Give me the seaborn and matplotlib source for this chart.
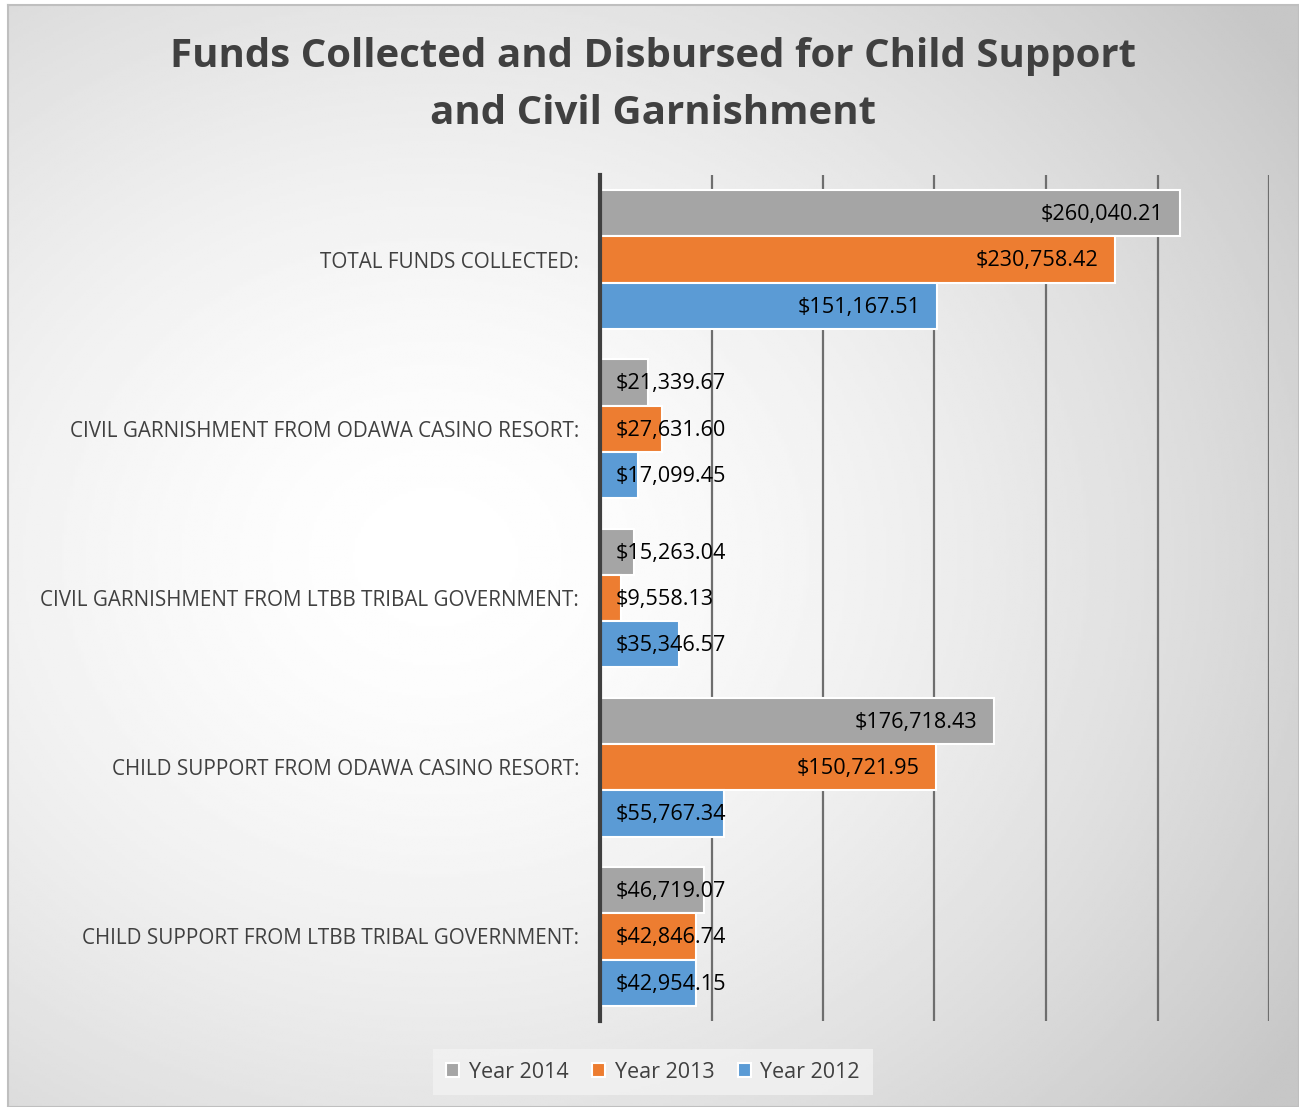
import numpy as np
import pandas as pd
import matplotlib
matplotlib.use("Agg")
import matplotlib.pyplot as plt
import seaborn as sns

categories = [
    "TOTAL FUNDS COLLECTED:",
    "CIVIL GARNISHMENT FROM ODAWA CASINO RESORT:",
    "CIVIL GARNISHMENT FROM LTBB TRIBAL GOVERNMENT:",
    "CHILD SUPPORT FROM ODAWA CASINO RESORT:",
    "CHILD SUPPORT FROM LTBB TRIBAL GOVERNMENT:",
]
series = ["Year 2014", "Year 2013", "Year 2012"]
year_2014 = [260040.21, 21339.67, 15263.04, 176718.43, 46719.07]
year_2013 = [230758.42, 27631.60, 9558.13, 150721.95, 42846.74]
year_2012 = [151167.51, 17099.45, 35346.57, 55767.34, 42954.15]
colors = ["#a5a5a5", "#ed7d31", "#5b9bd5"]

rows = []
for s, vals in zip(series, [year_2014, year_2013, year_2012]):
    for c, v in zip(categories, vals):
        rows.append({"category": c, "series": s, "value": v})
df = pd.DataFrame(rows)

sns.set_theme(style="white")
plt.rcParams["font.family"] = ["Open Sans", "DejaVu Sans"]

W, H = 1299, 1107
fig = plt.figure(figsize=(W / 100, H / 100), dpi=100)

# radial gradient background
bg = fig.add_axes([8 / W, 0, 1 - 8 / W, 1 - 5 / H], zorder=-10)
yy, xx = np.mgrid[0:400, 0:470]
cx, cy = 0.33 * 470, 0.50 * 400
r = np.sqrt(((xx - cx) / 470) ** 2 + ((yy - cy) / 400) ** 2)
r = np.clip(r / 0.8, 0, 1)
shade = 1.0 - 0.22 * r ** 1.6
bg.imshow(shade, cmap="gray", vmin=0, vmax=1, aspect="auto", extent=[0, 1, 0, 1])
bg.set_xticks([]); bg.set_yticks([])
for sp in bg.spines.values():
    sp.set_color("#bfbfbf"); sp.set_linewidth(1.5)

ax = fig.add_axes([600 / W, 1 - 1021 / H, (1269 - 600) / W, (1021 - 175) / H])
ax.patch.set_alpha(0)
sns.barplot(data=df, y="category", x="value", hue="series", order=categories,
            hue_order=series, palette=colors, saturation=1, orient="h", width=0.82,
            edgecolor="white", linewidth=1.5, ax=ax, legend=True, zorder=3)

ax.set_xlim(0, 300000)
ax.set_xticks(np.arange(0, 300001, 50000))
ax.set_xticklabels([])
ax.tick_params(axis="x", length=0)
ax.xaxis.grid(True, color="#6e6e6e", linewidth=1.6, zorder=0)
ax.set_axisbelow(True)
ax.set_xlabel(""); ax.set_ylabel("")
for s in ["top", "right", "bottom"]:
    ax.spines[s].set_visible(False)
ax.spines["left"].set_color("#404040")
ax.spines["left"].set_linewidth(3)
ax.spines["left"].set_zorder(6)
ax.tick_params(axis="y", length=0, pad=15, labelsize=14.9, labelcolor="#404040")

for cont in ax.containers:
    for bar in cont:
        v = bar.get_width()
        yc = bar.get_y() + bar.get_height() / 2
        txt = "${:,.2f}".format(v)
        if v > 100000:
            ax.annotate(txt, (v, yc), xytext=(-12, -1), textcoords="offset points",
                        ha="right", va="center", fontsize=15.6, color="black", zorder=5)
        else:
            ax.annotate(txt, (0, yc), xytext=(11.5, -1), textcoords="offset points",
                        ha="left", va="center", fontsize=15.6, color="black", zorder=5)

leg = ax.legend(loc="center", bbox_to_anchor=((653 - 600) / (1269 - 600), -(1072 - 1021) / (1021 - 175)),
                ncol=3, frameon=True, fontsize=15.5, handlelength=0.6, handleheight=0.6,
                handletextpad=0.45, columnspacing=1.1, borderpad=0.6)
leg.get_frame().set_facecolor("#f2f2f2")
leg.get_frame().set_edgecolor("none")
leg.get_frame().set_boxstyle("square", pad=0.0)
for t in leg.get_texts():
    t.set_color("#404040")

fig.text(653 / W, 1 - 85 / H, "Funds Collected and Disbursed for Child Support\nand Civil Garnishment",
         ha="center", va="center", fontsize=29, fontweight="bold", color="#404040",
         linespacing=1.6)

fig.savefig("out.png", dpi=100)
